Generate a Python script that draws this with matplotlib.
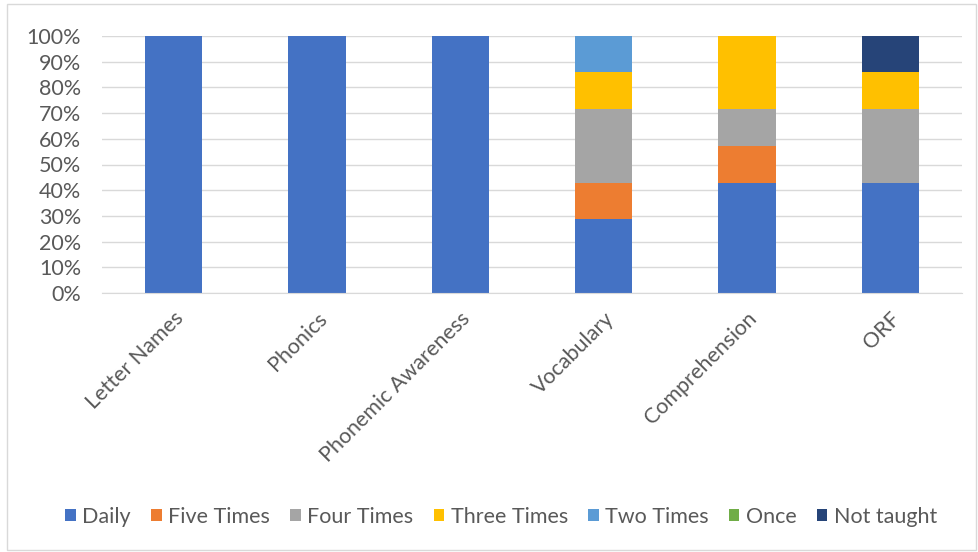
import matplotlib

matplotlib.use("Agg")
import matplotlib.pyplot as plt  # noqa: E402
import numpy as np  # noqa: E402
from matplotlib.patches import Rectangle  # noqa: E402

plt.rcParams["font.family"] = ["Lato", "DejaVu Sans"]

# data (percent of respondents)
categories = ["Letter Names", "Phonics", "Phonemic Awareness",
              "Vocabulary", "Comprehension", "ORF"]
daily = [100.0, 100.0, 100.0, 28.6, 42.9, 42.9]
five_times = [0.0, 0.0, 0.0, 14.3, 14.3, 0.0]
four_times = [0.0, 0.0, 0.0, 28.6, 14.3, 28.6]
three_times = [0.0, 0.0, 0.0, 14.3, 28.6, 14.3]
two_times = [0.0, 0.0, 0.0, 14.3, 0.0, 0.0]
once = [0.0, 0.0, 0.0, 0.0, 0.0, 0.0]
not_taught = [0.0, 0.0, 0.0, 0.0, 0.0, 14.3]

SERIES = [
    ("Daily", daily, "#4472C4"),
    ("Five Times", five_times, "#ED7D31"),
    ("Four Times", four_times, "#A5A5A5"),
    ("Three Times", three_times, "#FFC000"),
    ("Two Times", two_times, "#5B9BD5"),
    ("Once", once, "#70AD47"),
    ("Not taught", not_taught, "#264478"),
]
TEXT = "#595959"
FS = 15.5

fig = plt.figure(figsize=(9.79, 5.52), dpi=100)
ax = fig.add_axes([102 / 979, 1 - 293 / 552, (962 - 102) / 979, (293 - 36) / 552])

x = np.arange(len(categories))
bottom = np.zeros(len(categories))
for name, vals, color in SERIES:
    vals = np.asarray(vals)
    ax.bar(x, vals, width=0.4, bottom=bottom, color=color, label=name, zorder=2)
    bottom += vals

ax.set_xlim(-0.5, len(categories) - 0.5)
ax.set_ylim(0, 100)
ax.set_yticks(np.arange(0, 101, 10))
ax.set_yticklabels([f"{v}%" for v in range(0, 101, 10)])
ax.set_xticks(x)
ax.set_xticklabels(categories, rotation=45, ha="right", rotation_mode="anchor")
ax.tick_params(axis="both", length=0, labelsize=FS, colors=TEXT)
ax.tick_params(axis="y", pad=15)
ax.tick_params(axis="x", pad=11)
ax.grid(axis="y", color="#D9D9D9", linewidth=1, zorder=0)
for side in ("top", "right", "left"):
    ax.spines[side].set_visible(False)
ax.spines["bottom"].set_color("#D9D9D9")

leg = fig.legend(loc="center", bbox_to_anchor=(0.512, 1 - 517 / 552), ncol=7,
                 frameon=False, fontsize=FS, handlelength=0.48, handleheight=0.48,
                 handletextpad=0.3, columnspacing=0.95)
for t in leg.get_texts():
    t.set_color(TEXT)

fig.patches.append(Rectangle((7 / 979, 2 / 552), 969 / 979, 546 / 552,
                             transform=fig.transFigure, fill=False,
                             edgecolor="#D9D9D9", linewidth=1))

fig.savefig("out.png", dpi=100)
plt.close(fig)
